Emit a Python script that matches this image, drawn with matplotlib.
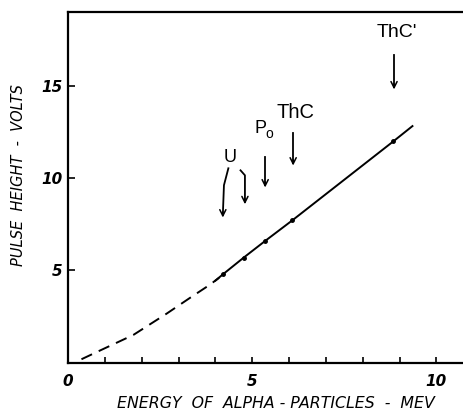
import matplotlib
matplotlib.use("Agg")
import matplotlib.pyplot as plt

# Data
dash_energy = [0.36, 0.86, 1.77, 2.67, 3.3, 3.83, 4.1]
dash_height = [0.18, 0.65, 1.5, 2.65, 3.5, 4.2, 4.6]
solid_energy = [4.0, 4.21, 4.77, 5.35, 6.09, 8.83, 9.35]
solid_height = [4.45, 4.8, 5.7, 6.6, 7.72, 12.0, 12.83]
point_energy = [4.21, 4.77, 5.35, 6.09, 8.83]
point_height = [4.8, 5.7, 6.6, 7.72, 12.0]

x_ticks = [0, 5, 10]
y_ticks = [5, 10, 15]
x_minor = [1, 2, 3, 4, 6, 7, 8, 9]

labels = ["U", "Po", "ThC", "ThC'"]
label_x = [4.39, 5.26, 6.16, 8.93]
label_y = [11.14, 12.72, 13.59, 17.93]
label_size = [13, 12, 14.5, 14]

arrow_paths = [
    ([4.35, 4.23, 4.20], [10.54, 9.62, 7.72]),
    ([4.68, 4.80, 4.80], [10.43, 10.16, 8.44]),
    ([5.35, 5.35], [11.16, 9.35]),
    ([6.11, 6.11], [12.45, 10.54]),
    ([8.85, 8.85], [16.68, 14.67]),
]

lab_font = "Liberation Sans"

fig = plt.figure(figsize=(4.64, 4.12), dpi=100)
ax = fig.add_axes([0.147, 0.120, 0.853, 0.850])
ax.set_xlim(0, 10.75)
ax.set_ylim(0, 19.0)

ax.plot(dash_energy, dash_height, color="black", lw=1.4, dashes=(6, 3.8))
ax.plot(solid_energy, solid_height, color="black", lw=1.4)
ax.plot(point_energy, point_height, "o", color="black", ms=2.5)

for (px, py) in arrow_paths:
    ax.plot(px[:-1] + [px[-1]], py[:-1] + [py[-1] + 0.3], color="black", lw=1.3)
    ax.annotate("", xy=(px[-1], py[-1]), xytext=(px[-1], py[-1] + 0.6),
                arrowprops=dict(arrowstyle="->", color="black", lw=1.1,
                                mutation_scale=11))

for t, x, y, s in zip(labels, label_x, label_y, label_size):
    if t == "Po":
        ax.text(x - 0.05, y, "P", fontsize=s + 1, ha="center", va="center",
                family=lab_font)
        ax.text(x + 0.2, y - 0.3, "o", fontsize=s - 2, ha="center", va="center",
                family=lab_font)
    else:
        ax.text(x, y, t, fontsize=s, ha="center", va="center",
                family=lab_font)

ax.spines["right"].set_visible(False)
for s in ["left", "bottom", "top"]:
    ax.spines[s].set_linewidth(1.6)

ax.set_xticks(x_ticks)
ax.set_xticks(x_minor, minor=True)
ax.set_yticks(y_ticks)
ax.tick_params(axis="x", which="both", direction="in", length=4, width=1.2, pad=8)
ax.tick_params(axis="y", which="both", direction="in", length=5, width=1.2, pad=4)
for lab in ax.get_xticklabels() + ax.get_yticklabels():
    lab.set_fontsize(11)
    lab.set_fontweight("bold")
    lab.set_fontstyle("italic")

ax.set_xlabel("ENERGY  OF  ALPHA - PARTICLES  -  MEV", fontsize=11.3,
              fontstyle="italic")
ax.set_ylabel("PULSE  HEIGHT  -  VOLTS", fontsize=10.5, fontstyle="italic")
# label positions in axes coordinates
ax.xaxis.set_label_coords(0.525, -0.096)
ax.yaxis.set_label_coords(-0.106, 0.535)

fig.savefig("out.png", dpi=100)
